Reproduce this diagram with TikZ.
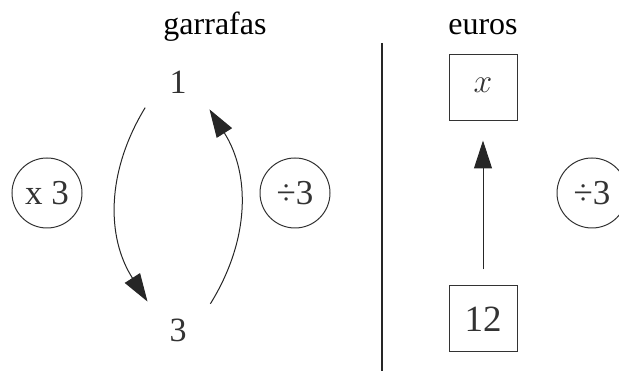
\documentclass[tikz,border=0pt]{standalone}
\usepackage{graphicx}
\usepackage{fontspec}
\setmainfont{Liberation Serif}
\usepackage{tikz}
\usetikzlibrary{arrows.meta,positioning,calc}

\begin{document}
\begin{tikzpicture}[
  x=1pt, y=1pt,
  title/.style={font=\fontsize{32}{36}\selectfont, anchor=base},
  num/.style={font=\fontsize{34}{38}\selectfont, text=black!80,
              circle, minimum size=83pt, inner sep=0pt},
  op/.style={circle, draw=black!80, line width=1pt, minimum size=70pt,
             inner sep=0pt, font=\fontsize{35}{38}\selectfont, text=black!80},
  val/.style={rectangle, draw=black!80, line width=1pt, minimum width=68pt,
              minimum height=66pt, inner sep=0pt,
              font=\fontsize{37}{40}\selectfont, text=black!80},
  ar/.style={-{Triangle[length=28pt, width=18pt]}, line width=1pt, draw=black!85}
]
\useasboundingbox (0,0) rectangle (619,371);
\node[title] (garr) at (215,336) {garrafas};
\node[title] (eur)  at (483,336) {euros};
\node[num] (one)   at (178,289) {1};
\node[num] (three) at (178,41)  {3};
\node[op] (mult)  at (47,178)  {x 3};
\node[op] (divl)  at (295,178) {÷3};
\node[op] (divr)  at (592,178) {÷3};
\node[val] (unk)  at (483,283) {\raisebox{6pt}{\scalebox{1.35}{$x$}}};
\node[val] (twelve) at (483,52) {12};
\coordinate (septop) at (382,328);
\coordinate (sepbot) at (382,0);

\draw[line width=1.2pt, black!85] (septop) -- (sepbot);
\draw[ar] (one.218) to[bend right=32] (three.137);
\draw[ar] (three.39) to[bend right=32] (one.319);
\draw[ar, shorten <=16pt, shorten >=19pt] (twelve.north) -- (unk.south);
\end{tikzpicture}
\end{document}
